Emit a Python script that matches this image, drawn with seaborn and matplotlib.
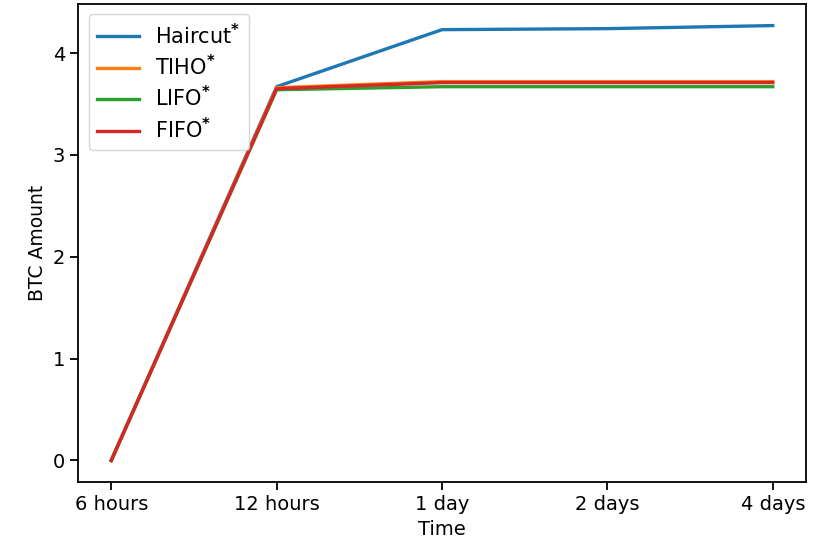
import matplotlib
matplotlib.use("Agg")
import matplotlib.pyplot as plt
import seaborn as sns
import pandas as pd

times = ["6 hours", "12 hours", "1 day", "2 days", "4 days"]
haircut = [0.0, 3.67, 4.23, 4.24, 4.27]
tiho = [0.0, 3.66, 3.72, 3.72, 3.72]
lifo = [0.0, 3.64, 3.67, 3.67, 3.67]
fifo = [0.0, 3.65, 3.71, 3.71, 3.71]
labels = [r"Haircut$^{\mathbf{*}}$", r"TIHO$^{\mathbf{*}}$", r"LIFO$^{\mathbf{*}}$", r"FIFO$^{\mathbf{*}}$"]

rows = []
for lab, vals in zip(labels, [haircut, tiho, lifo, fifo]):
    for i, (t, v) in enumerate(zip(times, vals)):
        rows.append({"Time": t, "idx": i, "BTC Amount": v, "Method": lab})
df = pd.DataFrame(rows)

plt.rcParams["font.family"] = ["DejaVu Sans"]
fig, ax = plt.subplots(figsize=(8.14, 5.48), dpi=100)
fig.subplots_adjust(left=0.096, right=0.99, top=0.993, bottom=0.12)

sns.lineplot(data=df, x="idx", y="BTC Amount", hue="Method",
             palette=sns.color_palette("tab10", 4), linewidth=2.4, ax=ax, sort=False)

ax.set_xticks(range(len(times)))
ax.set_xticklabels(times)
ax.set_xlabel("Time", fontsize=14)
ax.set_ylabel("BTC Amount", fontsize=13.5)
ax.tick_params(labelsize=14, length=6, width=1.3)
for s in ax.spines.values():
    s.set_linewidth(1.3)
leg = ax.legend(loc="upper left", fontsize=15, frameon=True, handlelength=2.0,
                labelspacing=0.3)
leg.set_title(None)
fig.savefig("out.png", dpi=100)
